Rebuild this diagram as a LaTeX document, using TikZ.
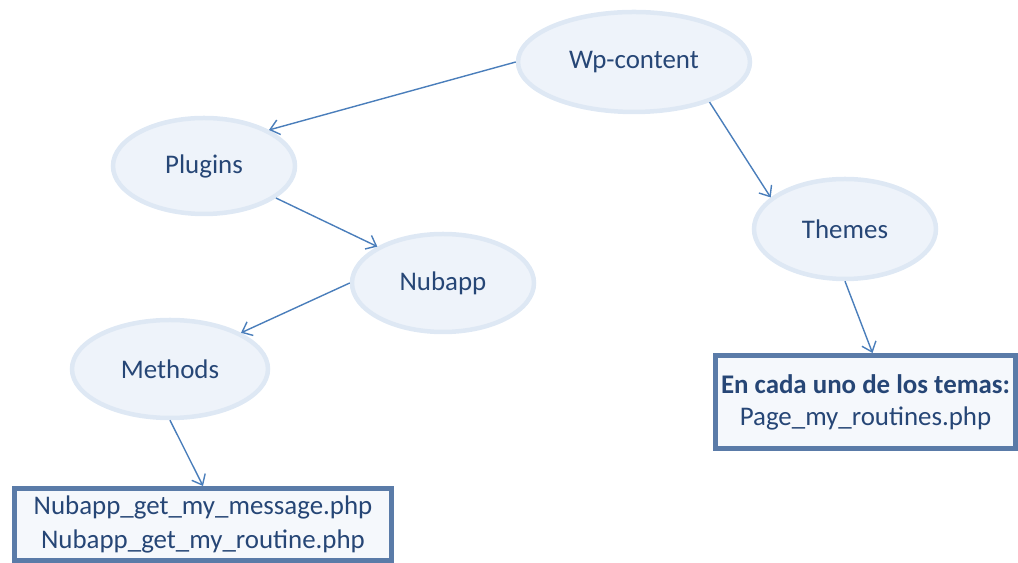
\documentclass[tikz,border=0pt]{standalone}
\usepackage{fontspec}
\setmainfont{Carlito}
\usetikzlibrary{shapes.geometric,arrows.meta}
\definecolor{txt}{RGB}{38,70,118}
\definecolor{ovfill}{RGB}{238,243,250}
\definecolor{ovline}{RGB}{222,232,244}
\definecolor{link}{RGB}{74,126,187}
\definecolor{boxline}{RGB}{90,123,168}
\definecolor{boxfill}{RGB}{245,248,252}
\tikzset{
  folder/.style={ellipse, draw=ovline, fill=ovfill, line width=4.5bp,
    inner sep=0pt, text=txt, font=\fontsize{27}{32}\selectfont},
  filebox/.style={rectangle, draw=boxline, fill=boxfill, line width=5bp,
    inner sep=0pt, text=txt, align=center, font=\fontsize{27}{33}\selectfont},
  link/.style={draw=link, line width=1.4bp,
    -{Straight Barb[length=9bp,width=15bp,line width=1.4bp]}}
}
\begin{document}
\begin{tikzpicture}[x=1bp,y=1bp]
\useasboundingbox (0,0) rectangle (1018,563);
% folder tree (y measured from the top edge: 563 - y)
\node[folder, minimum width=232bp, minimum height=100bp] (wp) at (634,501) {Wp-content};
\node[folder, minimum width=182bp, minimum height=96bp]  (plugins) at (204,397) {Plugins};
\node[folder, minimum width=182bp, minimum height=98bp]  (nub) at (443,280) {Nubapp};
\node[folder, minimum width=196bp, minimum height=98bp]  (meth) at (170,194) {Methods};
\node[folder, minimum width=182bp, minimum height=100bp] (themes) at (845,334) {Themes};
% files
\node[filebox, minimum width=377bp, minimum height=72bp] (files) at (203,38.5)
  {Nubapp\_get\_my\_message.php\\[1bp]Nubapp\_get\_my\_routine.php};
\node[filebox, minimum width=300bp, minimum height=93bp] (page) at (865.5,161)
  {\textbf{En cada uno de los temas:}\\[-1bp]Page\_my\_routines.php};
% connectors
\draw[link] (wp.west) -- (plugins.29);
\draw[link] (plugins.-24) -- (nub.151);
\draw[link] (nub.west) -- (meth.27);
\draw[link] (wp.-28) -- (themes.157);
\draw[link] (themes.south) -- ([xshift=7bp]page.north);
\draw[link] (meth.south) -- (files.north);
\end{tikzpicture}
\end{document}
